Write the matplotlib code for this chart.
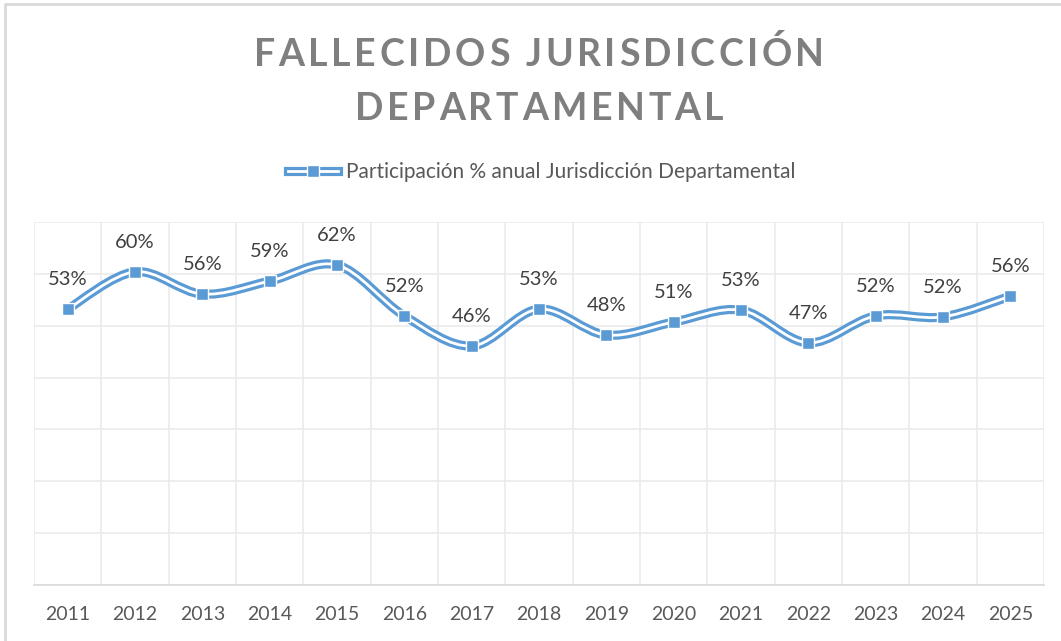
import matplotlib.pyplot as plt
from matplotlib.path import Path
from matplotlib.patches import PathPatch
from matplotlib.lines import Line2D
from matplotlib.legend_handler import HandlerTuple

years = ['2011', '2012', '2013', '2014', '2015', '2016', '2017', '2018',
         '2019', '2020', '2021', '2022', '2023', '2024', '2025']
participacion = [53.2, 60.4, 56.1, 58.6, 61.7, 51.9, 46.1, 53.2,
                 48.2, 50.7, 53.0, 46.7, 51.9, 51.7, 55.7]
title_lines = ['FALLECIDOS JURISDICCIÓN', 'DEPARTAMENTAL']
series_name = 'Participación % anual Jurisdicción Departamental'

BLUE = '#5B9BD5'
W, H, DPI = 1061, 641, 100

plt.rcParams['font.family'] = ['Lato', 'DejaVu Sans']

fig = plt.figure(figsize=(W / DPI, H / DPI), dpi=DPI)
ax = fig.add_axes([34 / W, 1 - 585 / H, (1044 - 34) / W, (585 - 222) / H])

x = list(range(len(years)))
y = participacion


def smooth_path(xs, ys):
    # excel style smoothing: cubic bezier with catmull-rom control points
    n = len(xs)
    verts = [(xs[0], ys[0])]
    codes = [Path.MOVETO]
    for i in range(n - 1):
        p0 = (xs[max(i - 1, 0)], ys[max(i - 1, 0)])
        p1 = (xs[i], ys[i])
        p2 = (xs[i + 1], ys[i + 1])
        p3 = (xs[min(i + 2, n - 1)], ys[min(i + 2, n - 1)])
        c1 = (p1[0] + (p2[0] - p0[0]) / 6, p1[1] + (p2[1] - p0[1]) / 6)
        c2 = (p2[0] - (p3[0] - p1[0]) / 6, p2[1] - (p3[1] - p1[1]) / 6)
        verts += [c1, c2, p2]
        codes += [Path.CURVE4] * 3
    return Path(verts, codes)


LW_OUT, LW_IN = 6.6, 2.0
path = smooth_path(x, y)
ax.add_patch(PathPatch(path, fill=False, edgecolor=BLUE, lw=LW_OUT, capstyle='butt', zorder=3))
ax.add_patch(PathPatch(path, fill=False, edgecolor='white', lw=LW_IN, capstyle='butt', zorder=4))
ax.plot(x, y, ls='none', marker='s', ms=8.5, mfc=BLUE, mec='white', mew=1.0, zorder=5)

for xi, yi in zip(x, y):
    ax.annotate(f'{round(yi)}%', (xi, yi), xytext=(0, 15), textcoords='offset points',
                ha='center', va='bottom', fontsize=14.5, color='#404040', zorder=6)

ax.set_xlim(-0.5, len(years) - 0.5)
ax.set_ylim(0, 70)
ax.set_yticks(range(0, 71, 10))
ax.set_xticks(x)
ax.set_xticklabels(years, fontsize=14, color='#595959')
ax.set_xticks([i - 0.5 for i in range(len(years) + 1)], minor=True)
ax.tick_params(axis='x', which='both', length=0, pad=15)
ax.tick_params(axis='y', left=False, labelleft=False)
ax.grid(axis='y', color='#EBEBEB', lw=1.2)
ax.grid(axis='x', which='minor', color='#EBEBEB', lw=1.2)
ax.grid(axis='x', which='major', visible=False)
ax.set_axisbelow(True)
for s in ['top', 'right', 'left']:
    ax.spines[s].set_visible(False)
ax.spines['bottom'].set_color('#D9D9D9')
ax.spines['bottom'].set_linewidth(1.2)

# legend with the double line + square marker
h_blue = Line2D([], [], color=BLUE, lw=LW_OUT)
h_white = Line2D([], [], color='white', lw=LW_IN)
h_mark = Line2D([], [], ls='none', marker='s', ms=8.5, mfc=BLUE, mec='white', mew=1.0)
fig.legend([(h_blue, h_white, h_mark)], [series_name], loc='center',
           bbox_to_anchor=(542 / W, 1 - 172 / H), frameon=False, fontsize=15,
           labelcolor='#595959', handlelength=2.4, handletextpad=0.4,
           handler_map={tuple: HandlerTuple(ndivide=1, pad=0)})

# chart border (top and left only visible)
fig.add_artist(Line2D([5 / W, 5 / W, 1], [0, 1 - 4 / H, 1 - 4 / H],
                      transform=fig.transFigure, color='#D9D9D9', lw=2))

# spaced-out title, drawn char by char
renderer = fig.canvas.get_renderer()
title_kw = dict(fontsize=27, fontweight='bold', color='#7F7F7F')
spacing = 3.6


def text_width(s):
    t = fig.text(0, 0, s, **title_kw)
    w = t.get_window_extent(renderer).width
    t.remove()
    return w


for line, base in zip(title_lines, [65.5, 120]):
    total = text_width(line) + spacing * (len(line) - 1)
    start = 539 - total / 2
    for i, ch in enumerate(line):
        if ch == ' ':
            continue
        px = start + text_width(line[:i + 1]) - text_width(ch) + spacing * i
        fig.text(px / W, 1 - base / H, ch, ha='left', va='baseline', **title_kw)

fig.savefig('out.png', dpi=DPI)
